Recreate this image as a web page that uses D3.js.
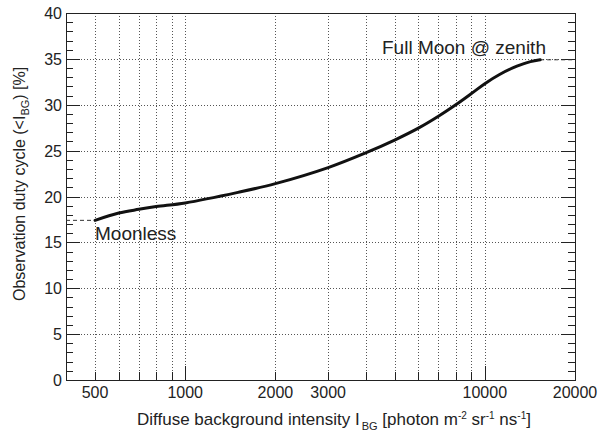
<!DOCTYPE html>
<html><head><meta charset="utf-8">
<script src="https://cdn.jsdelivr.net/npm/d3@7"></script>
<style>body{margin:0;background:#fff}svg{display:block;font-family:"Liberation Sans",Arial,sans-serif}</style>
</head><body><svg id="c" width="601" height="435"></svg>
<script>
const intensity = [500, 600, 700, 800, 1000, 1500, 2000, 3000, 4000, 5000, 6000, 7000, 8000, 9000, 10000, 11200, 12800, 14200, 15300];
const duty = [17.4, 18.2, 18.6, 18.9, 19.3, 20.45, 21.4, 23.15, 24.75, 26.15, 27.45, 28.75, 30.0, 31.2, 32.3, 33.3, 34.2, 34.7, 34.9];
const xTickLabels = [500, 1000, 2000, 3000, 10000, 20000];
const xGrid = [500, 600, 700, 800, 900, 1000, 2000, 3000, 4000, 5000, 6000, 7000, 8000, 9000, 10000];
const yTickLabels = [0, 5, 10, 15, 20, 25, 30, 35, 40];
const yMinor = d3.range(0, 41, 1);
const moonless = {x0: 400, x1: 500, y: 17.4, label: "Moonless"};
const fullMoon = {x0: 15300, x1: 20000, y: 34.9, label: "Full Moon @ zenith"};

const L = 66, R = 575, T = 13, B = 380;
const svg = d3.select("#c");
const x = d3.scaleLog().domain([400, 20000]).range([L, R]);
const y = d3.scaleLinear().domain([0, 40]).range([B, T]);
const ink = "#222";

// grid
const g = svg.append("g").attr("stroke", "#555").attr("stroke-width", 1).attr("stroke-dasharray", "1,2");
g.selectAll(".gx").data(xGrid).join("line")
  .attr("x1", d => Math.round(x(d)) + 0.5).attr("x2", d => Math.round(x(d)) + 0.5)
  .attr("y1", T).attr("y2", B);
g.selectAll(".gy").data([5,10,15,20,25,30,35]).join("line")
  .attr("y1", d => Math.round(y(d)) + 0.5).attr("y2", d => Math.round(y(d)) + 0.5)
  .attr("x1", L).attr("x2", R);

// ticks
const t = svg.append("g").attr("stroke", ink).attr("stroke-width", 1);
t.selectAll(".yl").data(yMinor).join("line")
  .attr("x1", L).attr("x2", d => L + (d % 5 === 0 ? 14 : 7))
  .attr("y1", d => Math.round(y(d)) + 0.5).attr("y2", d => Math.round(y(d)) + 0.5);
t.selectAll(".yr").data(yMinor).join("line")
  .attr("x1", R).attr("x2", d => R - (d % 5 === 0 ? 14 : 7))
  .attr("y1", d => Math.round(y(d)) + 0.5).attr("y2", d => Math.round(y(d)) + 0.5);
t.selectAll(".xb").data(xGrid).join("line")
  .attr("x1", d => Math.round(x(d)) + 0.5).attr("x2", d => Math.round(x(d)) + 0.5)
  .attr("y1", B).attr("y2", d => B - ((d === 1000 || d === 10000) ? 14 : 8));

// frame
svg.append("rect").attr("x", L + 0.5).attr("y", T + 0.5).attr("width", R - L).attr("height", B - T)
  .attr("fill", "none").attr("stroke", ink).attr("stroke-width", 1);

// tick labels
svg.append("g").selectAll("text").data(yTickLabels).join("text")
  .attr("x", L - 4).attr("y", d => y(d) + 6).attr("text-anchor", "end")
  .attr("font-size", 16).attr("fill", ink).text(d => d);
svg.append("g").selectAll("text").data(xTickLabels).join("text")
  .attr("x", d => x(d)).attr("y", 398).attr("text-anchor", "middle")
  .attr("font-size", 16).attr("fill", ink).text(d => d);

// reference dashed lines
[moonless, fullMoon].forEach(r => {
  svg.append("line").attr("x1", x(r.x0)).attr("x2", x(r.x1)).attr("y1", y(r.y)).attr("y2", y(r.y))
    .attr("stroke", "#333").attr("stroke-width", 1).attr("stroke-dasharray", "4,3");
});

// curve
const pts = intensity.map((d, i) => [d, duty[i]]);
svg.append("path").datum(pts)
  .attr("d", d3.line().x(d => x(d[0])).y(d => y(d[1])).curve(d3.curveCatmullRom.alpha(0.5)))
  .attr("fill", "none").attr("stroke", "#111").attr("stroke-width", 3).attr("stroke-linecap", "round");

// annotations
svg.append("text").attr("x", 95).attr("y", 240).attr("font-size", 19).attr("fill", ink).text(moonless.label);
svg.append("text").attr("x", 382).attr("y", 54).attr("font-size", 19).attr("fill", ink).text(fullMoon.label);

// axis titles
const xt = svg.append("text").attr("x", 137).attr("y", 425).attr("font-size", 17).attr("fill", ink);
xt.append("tspan").text("Diffuse background intensity I");
xt.append("tspan").attr("dy", 5).attr("dx", 2).attr("font-size", 11).text("BG");
xt.append("tspan").attr("dy", -5).text(" [photon m");
xt.append("tspan").attr("dy", -6).attr("font-size", 10).text("-2");
xt.append("tspan").attr("dy", 6).text(" sr");
xt.append("tspan").attr("dy", -6).attr("font-size", 10).text("-1");
xt.append("tspan").attr("dy", 6).text(" ns");
xt.append("tspan").attr("dy", -6).attr("font-size", 10).text("-1");
xt.append("tspan").attr("dy", 6).text("]");

const yt = svg.append("text").attr("transform", "translate(25,301) rotate(-90)").attr("font-size", 16).attr("fill", ink);
yt.append("tspan").text("Observation duty cycle (<I");
yt.append("tspan").attr("dy", 4).attr("font-size", 11).text("BG");
yt.append("tspan").attr("dy", -4).text(") [%]");
</script></body></html>
